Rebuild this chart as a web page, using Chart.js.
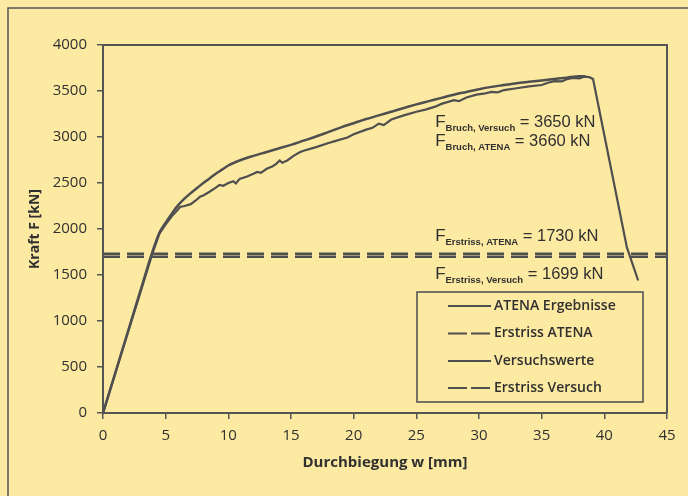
<!DOCTYPE html>
<html>
<head>
<meta charset="utf-8">
<script src="https://cdn.jsdelivr.net/npm/chart.js@4.4.1/dist/chart.umd.min.js"></script>
<style>
html,body{margin:0;padding:0;background:#FCE9A2;}
#wrap{width:688px;height:496px;position:relative;}
</style>
</head>
<body>
<div id="wrap"><canvas id="c" width="688" height="496"></canvas></div>
<script>
// ---- data ----
const atenaW = [0,1,2,3,3.9,4.5,5,5.5,6,6.5,7,7.5,8,8.5,9,9.5,10,11,12,13,14,15,16,17,18,19,20,21,22,23,24,25,26,27,28,29,30,31,32,33,34,35,36,37,38,38.5];
const atenaF = [0,445,890,1335,1735,1960,2070,2170,2260,2330,2390,2445,2500,2550,2600,2645,2690,2750,2795,2835,2875,2915,2960,3005,3055,3105,3150,3195,3235,3275,3315,3355,3390,3425,3460,3490,3520,3545,3565,3585,3600,3615,3630,3645,3660,3660];

const versuchW = [0,1,2,3,3.9,4.5,5,5.5,6,6.15,6.5,7,7.4,7.74,8,8.5,9,9.3,9.6,10,10.4,10.6,10.9,11.5,12,12.3,12.6,13.06,13.5,13.8,14.1,14.3,14.7,15.2,15.7,16,17,18,18.5,19.5,20,21,21.5,22,22.4,23,24,25,25.8,26.5,27,28,28.4,29,29.8,30.5,31,31.5,32,33,34,35,35.5,36,36.6,37,37.5,38,38.4,38.8,39.1,41.8,42.7];
const versuchF = [0,440,880,1320,1715,1950,2050,2140,2215,2240,2250,2270,2310,2351,2365,2405,2450,2480,2470,2500,2520,2495,2545,2570,2600,2620,2610,2655,2680,2705,2745,2720,2745,2795,2835,2850,2890,2935,2955,2995,3030,3080,3100,3145,3130,3190,3235,3275,3300,3330,3360,3400,3390,3430,3460,3475,3490,3485,3510,3530,3550,3565,3590,3608,3604,3628,3642,3638,3655,3650,3630,1800,1440];

const erstrissAtena = 1730;
const erstrissVersuch = 1699;
const xRange = [0, 45];

const xTicks = [0,5,10,15,20,25,30,35,40,45];
const yTicks = [0,500,1000,1500,2000,2500,3000,3500,4000];

const seriesLabels = ['ATENA Ergebnisse','Erstriss ATENA','Versuchswerte','Erstriss Versuch'];
const xTitle = 'Durchbiegung w [mm]';
const yTitle = 'Kraft F [kN]';

const noteMain = ['F','F','F','F'];
const noteSub = ['Bruch, Versuch','Bruch, ATENA','Erstriss, ATENA','Erstriss, Versuch'];
const noteValue = ['= 3650 kN','= 3660 kN','= 1730 kN','= 1699 kN'];

// ---- styling ----
const BG = '#FCE9A2';
const LINE = '#4f4f4f';
const TXT = '#303030';

const pts = (ws, fs) => ws.map((w,i)=>({x:w,y:fs[i]}));

const datasets = [
  {label:seriesLabels[0], data:pts(atenaW,atenaF), borderColor:LINE, borderWidth:2.5, pointRadius:0, fill:false, cubicInterpolationMode:'monotone'},
  {label:seriesLabels[1], data:pts(xRange,[erstrissAtena,erstrissAtena]), borderColor:LINE, borderWidth:2.5, borderDash:[17,7], pointRadius:0, fill:false},
  {label:seriesLabels[2], data:pts(versuchW,versuchF), borderColor:LINE, borderWidth:2.2, pointRadius:0, fill:false, tension:0},
  {label:seriesLabels[3], data:pts(xRange,[erstrissVersuch,erstrissVersuch]), borderColor:LINE, borderWidth:2.5, borderDash:[17,7], pointRadius:0, fill:false}
];

const deco = {
  id:'deco',
  beforeDraw(chart){
    const c = chart.ctx;
    c.save();
    c.fillStyle = BG;
    c.fillRect(0,0,chart.width,chart.height);
    c.strokeStyle = '#555';
    c.lineWidth = 1.5;
    c.beginPath();
    c.moveTo(8, chart.height+5);
    c.lineTo(8, 8);
    c.lineTo(chart.width+5, 8);
    c.stroke();
    c.restore();
  },
  afterDraw(chart){
    const c = chart.ctx;
    const a = chart.chartArea;
    const xs = chart.scales.x, ys = chart.scales.y;
    c.save();
    // top and right frame of plot
    c.strokeStyle = '#555';
    c.lineWidth = 2;
    c.beginPath();
    c.moveTo(a.left, a.top);
    c.lineTo(a.right, a.top);
    c.lineTo(a.right, a.bottom);
    c.stroke();

    // annotations
    const anchors = [[26.5,3110],[26.5,2900],[26.5,1870],[26.5,1455]];
    for (let i=0;i<noteMain.length;i++){
      const x = xs.getPixelForValue(anchors[i][0]);
      const y = ys.getPixelForValue(anchors[i][1]);
      c.fillStyle = TXT;
      c.textBaseline = 'alphabetic';
      c.textAlign = 'left';
      c.font = '17px "Liberation Sans", Arial, sans-serif';
      c.fillText(noteMain[i], x, y);
      let w = c.measureText(noteMain[i]).width;
      c.font = 'bold 9.5px "Liberation Sans", Arial, sans-serif';
      c.fillText(noteSub[i], x + w, y + 4);
      w += c.measureText(noteSub[i]).width;
      c.font = '16.5px "Liberation Sans", Arial, sans-serif';
      c.fillText(' ' + noteValue[i], x + w, y);
    }

    // legend box
    const lx = 417, ly = 292, lw = 226, lh = 110;
    c.lineWidth = 1.6;
    c.strokeStyle = '#555';
    c.strokeRect(lx, ly, lw, lh);
    const rows = [306, 333.5, 361, 388];
    chart.data.datasets.forEach((ds, i) => {
      const y = rows[i];
      c.strokeStyle = LINE;
      c.lineWidth = 2.2;
      c.setLineDash(ds.borderDash ? [19,4] : []);
      c.beginPath();
      c.moveTo(448, y);
      c.lineTo(491, y);
      c.stroke();
      c.setLineDash([]);
      c.fillStyle = TXT;
      c.font = '600 14px "Open Sans", sans-serif';
      c.textBaseline = 'middle';
      c.textAlign = 'left';
      c.fillText(ds.label, 494, y);
    });
    c.restore();
  }
};

new Chart(document.getElementById('c'), {
  type:'line',
  data:{datasets},
  plugins:[deco],
  options:{
    responsive:false,
    animation:false,
    devicePixelRatio:1,
    layout:{padding:{top:45,right:21,left:0,bottom:0}},
    plugins:{legend:{display:false}, tooltip:{enabled:false}},
    scales:{
      x:{
        type:'linear', min:xRange[0], max:xRange[1],
        afterFit(s){ s.height = 83; },
        afterBuildTicks(s){ s.ticks = xTicks.map(v=>({value:v})); },
        grid:{drawOnChartArea:false, drawTicks:true, tickLength:6, color:'#555', lineWidth:1.5},
        border:{color:'#555', width:2},
        ticks:{color:TXT, padding:8, font:{family:'"Open Sans", sans-serif', size:15}, maxRotation:0, callback:v=>String(v)},
        title:{display:true, text:xTitle, color:TXT, font:{family:'"Open Sans", sans-serif', size:15, weight:'bold'}, padding:{top:0,bottom:24}}
      },
      y:{
        type:'linear', min:0, max:4000,
        afterFit(s){ s.width = 103; },
        afterBuildTicks(s){ s.ticks = yTicks.map(v=>({value:v})); },
        grid:{drawOnChartArea:false, drawTicks:true, tickLength:6, color:'#555', lineWidth:1.5},
        border:{color:'#555', width:2},
        ticks:{color:TXT, padding:10, font:{family:'"Open Sans", sans-serif', size:15}, callback:v=>String(v)},
        title:{display:true, text:yTitle, color:TXT, font:{family:'"Open Sans", sans-serif', size:14, weight:'bold'}, padding:{top:27,bottom:0}}
      }
    }
  }
});
</script>
</body>
</html>
